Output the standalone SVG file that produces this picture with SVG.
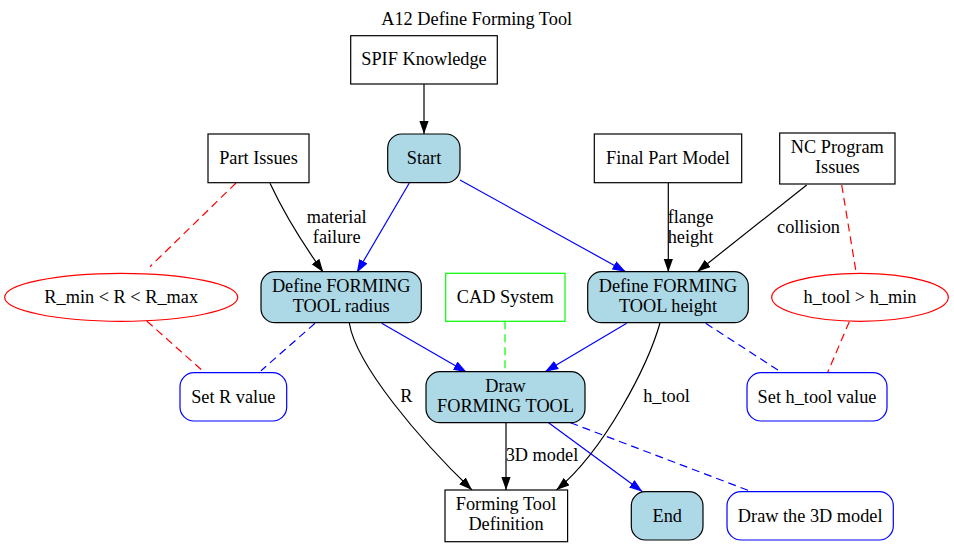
<svg xmlns="http://www.w3.org/2000/svg" width="954" height="547" viewBox="0 0 954 547">
<style>
text{font-family:"Liberation Serif","Times New Roman",serif;font-size:18.3px;text-anchor:middle;fill:#000}
.box{fill:#fff;stroke:#000;stroke-width:1.2}
.proc{fill:#add8e6;stroke:#000;stroke-width:1.2}
.blue{fill:#fff;stroke:#0000ff;stroke-width:1.2}
.red{fill:#fff;stroke:#ff0000;stroke-width:1.2}
.green{fill:#fff;stroke:#00ff00;stroke-width:1.2}
.e{fill:none;stroke-width:1.2}
.k{stroke:#000}
.b{stroke:#0000ff}
.d{stroke-dasharray:8,5}
.r{stroke:#ff0000}
.g{stroke:#00ff00}
</style>
<defs>
<marker id="ak" markerUnits="userSpaceOnUse" markerWidth="14" markerHeight="10" refX="13.3" refY="4.7" orient="auto"><path d="M0,0 L13.3,4.7 L0,9.4 z" fill="#000"/></marker>
<marker id="ab" markerUnits="userSpaceOnUse" markerWidth="14" markerHeight="10" refX="13.3" refY="4.7" orient="auto"><path d="M0,0 L13.3,4.7 L0,9.4 z" fill="#0000ff"/></marker>
</defs>
<text x="476.7" y="25">A12 Define Forming Tool</text>
<g id="edges">
<path class="e k" d="M424,84 L424,134" marker-end="url(#ak)"/>
<path class="e k" d="M270,183.3 Q290,226 323.3,272.3" marker-end="url(#ak)"/>
<path class="e b" d="M409.3,183 L356.7,272.7" marker-end="url(#ab)"/>
<path class="e b" d="M460,180 L625.7,271.7" marker-end="url(#ab)"/>
<path class="e k" d="M668.3,182.7 L668.3,272" marker-end="url(#ak)"/>
<path class="e k" d="M806.7,185 L697.3,271.7" marker-end="url(#ak)"/>
<path class="e r d" d="M236,183 L150,266.7"/>
<path class="e r d" d="M841.7,185 L856,271.7"/>
<path class="e r d" d="M146.7,321 L201.7,370"/>
<path class="e b d" d="M315,323.3 L261,370.7"/>
<path class="e r d" d="M849.3,321.7 L827.7,372.3"/>
<path class="e b d" d="M705.7,323.3 L779,370.7"/>
<path class="e g d" d="M505,321.3 L505,371.7"/>
<path class="e b" d="M381.7,323.3 L466.7,372.3" marker-end="url(#ab)"/>
<path class="e b" d="M626.7,323.3 L545,371.7" marker-end="url(#ab)"/>
<path class="e k" d="M349.3,323 C356,365 420,440 472,490" marker-end="url(#ak)"/>
<path class="e k" d="M660,323 C648,365 605,450 556.4,490" marker-end="url(#ak)"/>
<path class="e k" d="M506,422.7 L506,490" marker-end="url(#ak)"/>
<path class="e b" d="M548.6,422.7 L642.5,491.7" marker-end="url(#ab)"/>
<path class="e b d" d="M570.4,422.7 L749.8,491"/>
<text x="336.7" y="222.7">material</text>
<text x="336.7" y="242.7">failure</text>
<text x="690.5" y="222.7">flange</text>
<text x="690.5" y="242.7">height</text>
<text x="808.5" y="232.7">collision</text>
<text x="406.3" y="401.7">R</text>
<text x="666.5" y="401.7">h_tool</text>
<text x="542" y="460.7">3D model</text>
</g>
<g id="spif"><rect class="box" x="350.7" y="35.7" width="146.6" height="48.3"/><text x="424" y="65">SPIF Knowledge</text></g>
<g id="start"><rect class="proc" x="387.7" y="134" width="72.3" height="48.7" rx="14"/><text x="424" y="164">Start</text></g>
<g id="partissues"><rect class="box" x="208" y="134" width="101" height="48.7"/><text x="258.5" y="164">Part Issues</text></g>
<g id="finalpart"><rect class="box" x="594.3" y="134" width="147.4" height="48.7"/><text x="668" y="164">Final Part Model</text></g>
<g id="ncprogram"><rect class="box" x="779.7" y="133" width="115.3" height="51"/><text x="837.3" y="153.3">NC Program</text><text x="837.3" y="173.3">Issues</text></g>
<g id="rcons"><ellipse class="red" cx="121.2" cy="297.3" rx="116.5" ry="24"/><text x="121.2" y="302.5">R_min &lt; R &lt; R_max</text></g>
<g id="defradius"><rect class="proc" x="261" y="271.7" width="160.3" height="51" rx="14"/><text x="341.2" y="291.7">Define FORMING</text><text x="341.2" y="311.7">TOOL radius</text></g>
<g id="cad"><rect class="green" x="445.7" y="273.3" width="119.3" height="48"/><text x="505.3" y="302.5">CAD System</text></g>
<g id="defheight"><rect class="proc" x="587.7" y="271.7" width="160.6" height="51" rx="14"/><text x="668" y="291.7">Define FORMING</text><text x="668" y="311.7">TOOL height</text></g>
<g id="hcons"><ellipse class="red" cx="860" cy="297.3" rx="88.3" ry="24"/><text x="860" y="302.5">h_tool &gt; h_min</text></g>
<g id="setr"><rect class="blue" x="180" y="372.7" width="106.7" height="48.3" rx="14"/><text x="233.3" y="402.5">Set R value</text></g>
<g id="draw"><rect class="proc" x="426" y="371.7" width="159" height="51" rx="14"/><text x="505.5" y="391.7">Draw</text><text x="505.5" y="411.7">FORMING TOOL</text></g>
<g id="seth"><rect class="blue" x="747" y="372.7" width="140" height="48.3" rx="14"/><text x="817" y="402.5">Set h_tool value</text></g>
<g id="ftd"><rect class="box" x="445" y="490" width="122.6" height="51.7"/><text x="506" y="510">Forming Tool</text><text x="506" y="530">Definition</text></g>
<g id="end"><rect class="proc" x="631.3" y="491.7" width="71.7" height="48.3" rx="14"/><text x="667.2" y="521.5">End</text></g>
<g id="draw3d"><rect class="blue" x="727" y="491.7" width="166.3" height="48.3" rx="14"/><text x="810.2" y="521.5">Draw the 3D model</text></g>
</svg>
